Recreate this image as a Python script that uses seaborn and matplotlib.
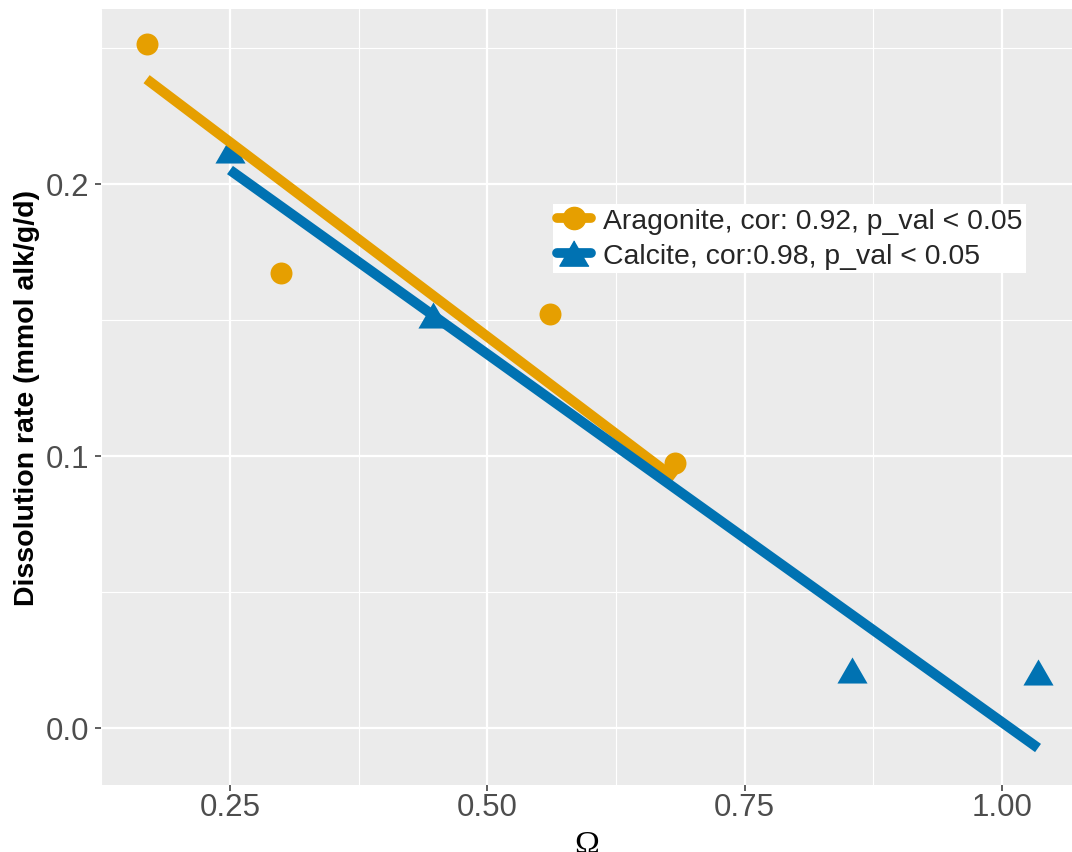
import numpy as np
import pandas as pd
import matplotlib
matplotlib.use("Agg")
import matplotlib.pyplot as plt
import seaborn as sns
from matplotlib.lines import Line2D
from matplotlib.ticker import MultipleLocator

# puntos
arag_omega = [0.169, 0.300, 0.561, 0.682]
arag_rate = [0.2515, 0.1673, 0.1522, 0.0974]
calc_omega = [0.250, 0.4475, 0.854, 1.035]
calc_rate = [0.2125, 0.1518, 0.0213, 0.0204]
# rectas de ajuste (extremos)
arag_fit_omega = [0.169, 0.682]
arag_fit_rate = [0.2385, 0.0918]
calc_fit_omega = [0.250, 1.035]
calc_fit_rate = [0.2051, -0.0074]
etiquetas = ["Aragonite, cor: 0.92, p_val < 0.05", "Calcite, cor:0.98, p_val < 0.05"]
colores = ["#E69F00", "#0072B2"]

puntos = pd.DataFrame({
    "omega": arag_omega + calc_omega,
    "rate": arag_rate + calc_rate,
    "mineral": ["Aragonite"] * 4 + ["Calcite"] * 4,
})
ajustes = pd.DataFrame({
    "omega": arag_fit_omega + calc_fit_omega,
    "rate": arag_fit_rate + calc_fit_rate,
    "mineral": ["Aragonite"] * 2 + ["Calcite"] * 2,
})

sns.set_theme(style="darkgrid", rc={
    "axes.facecolor": "#EBEBEB",
    "grid.color": "white",
    "axes.edgecolor": "#EBEBEB",
})
plt.rcParams["font.family"] = ["Liberation Sans", "DejaVu Sans"]

fig = plt.figure(figsize=(10.72, 8.53), dpi=100)
ax = fig.add_axes([101 / 1072, 1 - 786 / 853, 1 - 101 / 1072, (786 - 10) / 853])

# triangulo equilatero como el de ggplot
tri = [(0, 0.866), (-1, -0.866), (1, -0.866)]
paleta = dict(zip(["Aragonite", "Calcite"], colores))

sns.scatterplot(data=puntos[puntos.mineral == "Aragonite"], x="omega", y="rate",
                color=colores[0], marker="o", s=250, linewidth=0, ax=ax, zorder=2, legend=False)
sns.scatterplot(data=puntos[puntos.mineral == "Calcite"], x="omega", y="rate",
                color=colores[1], marker=tri, s=470, linewidth=0, ax=ax, zorder=2, legend=False)
for i, (mineral, sub) in enumerate(ajustes.groupby("mineral")):
    sns.lineplot(data=sub, x="omega", y="rate", color=paleta[mineral], lw=7.3,
                 solid_capstyle="butt", ax=ax, zorder=3 + i, legend=False)

ax.set_xlim(0.1247, 1.068)
ax.set_ylim(-0.021, 0.2643)
ax.xaxis.set_minor_locator(MultipleLocator(0.125))
ax.yaxis.set_minor_locator(MultipleLocator(0.05))
ax.set_xticks([0.25, 0.50, 0.75, 1.00])
ax.set_xticklabels(["0.25", "0.50", "0.75", "1.00"])
ax.set_yticks([0.0, 0.1, 0.2])
ax.set_yticklabels(["0.0", "0.1", "0.2"])
ax.grid(which="major", color="white", lw=1.6)
ax.grid(which="minor", color="white", lw=0.8)
ax.tick_params(which="major", labelsize=22.5, labelcolor="#4D4D4D", color="#333333",
               length=4.5, width=1.1, bottom=True, left=True)
ax.tick_params(axis="x", pad=0.5)
ax.tick_params(axis="y", pad=4)
ax.tick_params(which="minor", length=0)
for s in ax.spines.values():
    s.set_visible(False)

ax.set_xlabel("")
ax.set_ylabel("")
fig.text(27 / 1072, 1 - 398 / 853, "Dissolution rate (mmol alk/g/d)", fontsize=20.5,
         fontweight="bold", rotation=90, ha="center", va="center", color="black")
fig.text(587 / 1072, 1 - 831 / 853, "\u03a9", fontsize=24, family=["Liberation Serif", "DejaVu Serif"],
         ha="center", va="top", color="black")

handles = [Line2D([], [], color=colores[0], marker="o", markersize=16, lw=7),
           Line2D([], [], color=colores[1], marker=tri, markersize=21, lw=7)]
leg = fig.legend(handles, etiquetas, loc="upper left", bbox_to_anchor=(553 / 1072, 1 - 205 / 853),
                 frameon=True, fontsize=20.4, handlelength=1.2, handletextpad=0.4,
                 borderpad=0.15, labelspacing=0.3, borderaxespad=0, fancybox=False)
leg.get_frame().set_facecolor("white")
leg.get_frame().set_edgecolor("white")
leg.get_frame().set_linewidth(0)
leg.get_frame().set_alpha(1)

fig.savefig("out.png", dpi=100, facecolor="white")
